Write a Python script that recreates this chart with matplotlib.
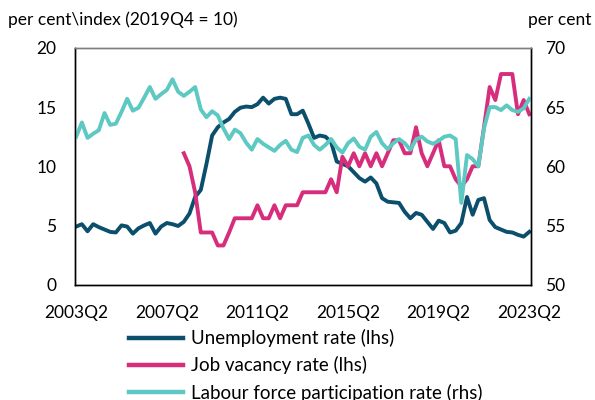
import matplotlib
matplotlib.use("Agg")
import matplotlib.pyplot as plt
import numpy as np
import pandas as pd

plt.rcParams["font.family"] = ["Lato", "DejaVu Sans"]

# quarterly categories, 2003Q2 .. 2023Q2
quarters = list(pd.period_range("2003Q2", "2023Q2", freq="Q").astype(str))
tick_labels = ["2003Q2", "2007Q2", "2011Q2", "2015Q2", "2019Q2", "2023Q2"]

# unemployment rate, per cent (lhs)
unemployment = [
    4.9, 5.1, 4.5, 5.1, 4.85, 4.65, 4.45, 4.4, 5.0, 4.9,
    4.3, 4.75, 5.0, 5.2, 4.3, 4.9, 5.2, 5.1, 4.95, 5.3,
    6.0, 7.4, 8.0, 10.2, 12.6, 13.3, 13.7, 14.0, 14.6, 14.95,
    15.05, 15.0, 15.25, 15.8, 15.3, 15.7, 15.8, 15.7, 14.4, 14.4,
    14.7, 13.6, 12.4, 12.6, 12.5, 12.05, 10.4, 10.2, 10.0, 9.5,
    9.0, 8.7, 9.05, 8.55, 7.3, 7.0, 6.95, 6.9, 6.15, 5.6,
    6.05, 5.9, 5.3, 4.7, 5.4, 5.2, 4.4, 4.55, 5.2, 7.4,
    5.9, 7.15, 7.3, 5.45, 4.85, 4.65, 4.45, 4.4, 4.2, 4.05,
    4.45,
]

# job vacancy rate index (2019Q4 = 10), starts 2008Q1 (lhs)
vacancy_start = "2008Q1"
vacancy = [
    11.1, 10.0, 7.8, 4.4, 4.4, 4.4, 3.3, 3.3, 4.4, 5.6,
    5.6, 5.6, 5.6, 6.7, 5.6, 5.6, 6.7, 5.6, 6.7, 6.7,
    6.7, 7.8, 7.8, 7.8, 7.8, 7.8, 8.9, 7.8, 10.8, 10.0,
    11.1, 10.0, 11.1, 10.0, 11.1, 10.0, 11.1, 12.2, 12.2, 11.1,
    11.1, 13.3, 11.1, 10.0, 11.1, 12.2, 10.0, 10.0, 8.9, 8.3,
    8.9, 10.0, 10.0, 13.3, 16.7, 15.6, 17.8, 17.8, 17.8, 14.4,
    15.6, 14.4,
]

# labour force participation rate, per cent (rhs)
participation = [
    62.5, 63.7, 62.4, 62.75, 63.05, 64.5, 63.5, 63.6, 64.6, 65.7,
    64.7, 64.95, 65.8, 66.7, 65.7, 66.1, 66.45, 67.35, 66.3, 65.95,
    66.3, 66.7, 64.8, 64.15, 64.65, 64.3, 63.2, 62.3, 63.1, 62.8,
    62.0, 61.4, 62.3, 61.9, 61.6, 61.3, 61.8, 62.15, 61.4, 61.2,
    62.4, 62.6, 61.8, 61.4, 61.8, 62.3, 61.6, 61.15, 61.95, 62.35,
    61.65, 61.4, 62.5, 62.9, 61.95, 61.45, 61.95, 62.3, 61.95, 61.4,
    62.25, 62.5, 62.1, 61.9, 62.15, 62.5, 62.6, 62.3, 56.9, 60.95,
    60.6, 60.0, 63.2, 65.0, 65.0, 64.75, 65.15, 64.75, 64.6, 64.9,
    65.7,
]

DARK = "#0b4f6c"
PINK = "#d62e7c"
CYAN = "#5ec8c2"
FS = 12.5
LEG_FS = 13.5

x = np.arange(len(quarters))
vac_x = x[quarters.index(vacancy_start):]

fig = plt.figure(figsize=(5.95, 4.0), dpi=100)
ax = fig.add_axes([74.5 / 595, 1 - 284.5 / 400, 456.5 / 595, 236.5 / 400])
ax2 = ax.twinx()

l1, = ax.plot(x, unemployment, color=DARK, lw=2.8)
l2, = ax.plot(vac_x, vacancy, color=PINK, lw=2.8)
l3, = ax2.plot(x, participation, color=CYAN, lw=2.8)

ax.set_xlim(-0.3, len(quarters) - 0.7)
ax.set_ylim(0, 20)
ax.set_yticks([0, 5, 10, 15, 20])
ax2.set_ylim(50, 70)
ax2.set_yticks([50, 55, 60, 65, 70])
ax.set_xticks([quarters.index(t) for t in tick_labels])
ax.set_xticklabels(tick_labels)

ax.tick_params(axis="y", length=0, pad=13, labelsize=FS)
ax.tick_params(axis="x", length=0, pad=15, labelsize=FS)
ax2.tick_params(axis="y", length=0, pad=10, labelsize=FS)

for a in (ax, ax2):
    for side in ("left", "right", "bottom"):
        a.spines[side].set_color("black")
        a.spines[side].set_linewidth(1.0)
    a.spines["top"].set_color("#7f7f7f")
    a.spines["top"].set_linewidth(1.0)

fig.text(8 / 595, 1 - 20 / 400, "per cent\\index (2019Q4 = 10)",
         fontsize=FS, ha="left", va="center")
fig.text(591 / 595, 1 - 20 / 400, "per cent", fontsize=FS, ha="right", va="center")

fig.legend(
    [l1, l2, l3],
    ["Unemployment rate (lhs)", "Job vacancy rate (lhs)",
     "Labour force participation rate (rhs)"],
    loc="upper left",
    bbox_to_anchor=(129 / 595, 1 - 329 / 400),
    frameon=False,
    fontsize=LEG_FS,
    handlelength=2.88,
    handletextpad=0.43,
    labelspacing=0.5,
    borderpad=0,
    borderaxespad=0,
)
for h in fig.legends[0].get_lines():
    h.set_linewidth(3.2)

fig.savefig("out.png", dpi=100)
